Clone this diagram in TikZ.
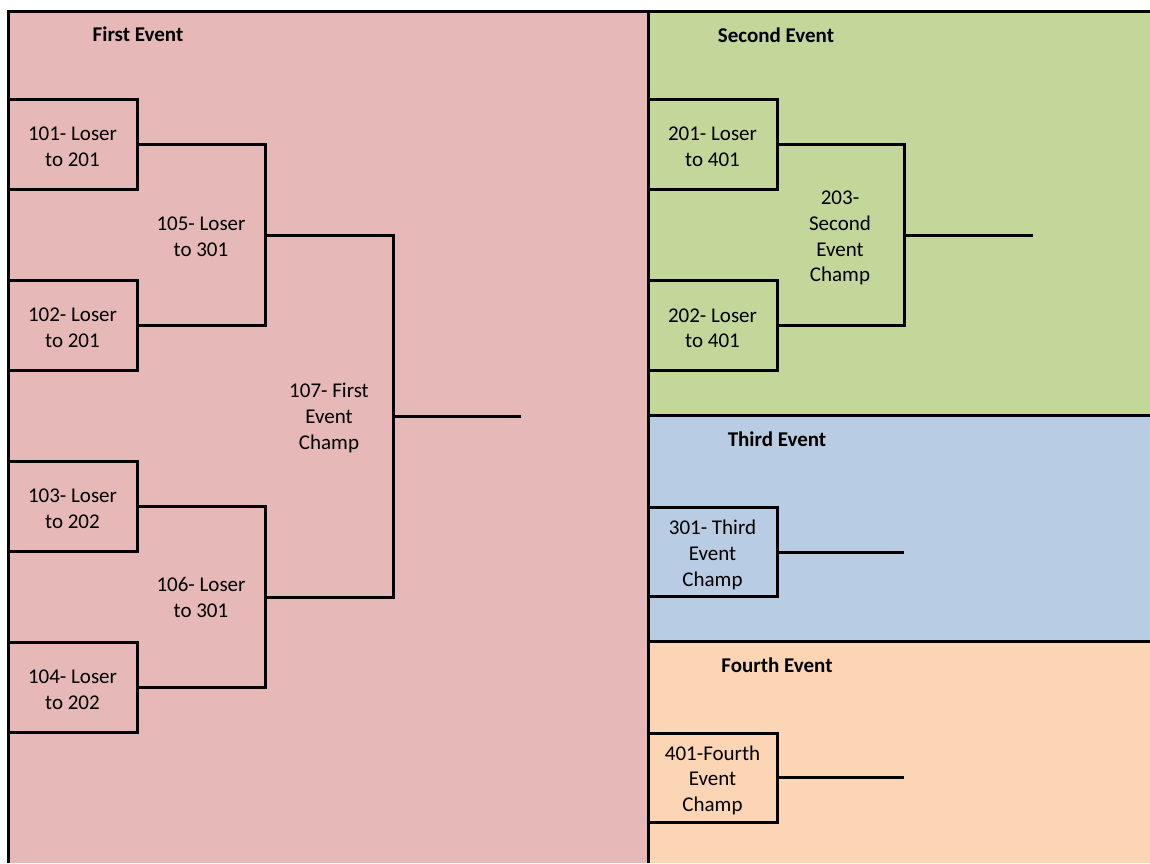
\documentclass[tikz,border=0pt]{standalone}
\usepackage{fontspec}
\setmainfont{Carlito}
\definecolor{pinkbg}{HTML}{E6B8B7}
\definecolor{greenbg}{HTML}{C4D79B}
\definecolor{bluebg}{HTML}{B8CCE4}
\definecolor{orangebg}{HTML}{FCD5B4}
\begin{document}
\begin{tikzpicture}[x=1pt,y=-1pt,line width=3pt,
  txt/.style={align=center,inner sep=0pt,font=\fontsize{21}{25.8}\selectfont},
  box/.style={draw,line width=3pt,minimum width=129pt,minimum height=90pt,inner sep=0pt,
    label={[txt,yshift=-2.8pt]center:#1}},
  title/.style={inner sep=0pt,font=\fontsize{21}{25.8}\selectfont\bfseries}]
\useasboundingbox (0,0) rectangle (1150,863);
% backgrounds
\fill[pinkbg] (8,11) rectangle (648,863);
\fill[greenbg] (648,11) rectangle (1150,415);
\fill[bluebg] (648,415) rectangle (1150,641);
\fill[orangebg] (648,641) rectangle (1150,863);
% frame lines
\draw (8,863) -- (8,11) -- (1150,11);
\draw (648,11) -- (648,863);
\draw (648,415) -- (1150,415);
\draw (648,641) -- (1150,641);
% titles
\node[title] (t1) at (138,34) {First Event};
\node[title] (t2) at (776,35) {Second Event};
\node[title] (t3) at (777,439) {Third Event};
\node[title] (t4) at (777,665) {Fourth Event};
% first event boxes
\node[box={101- Loser\\to 201}] (b101) at (72.5,144) {};
\node[box={102- Loser\\to 201}] (b102) at (72.5,325) {};
\node[box={103- Loser\\to 202}] (b103) at (72.5,506) {};
\node[box={104- Loser\\to 202}] (b104) at (72.5,687) {};
\coordinate (j105) at (265,235);
\coordinate (j106) at (265,597);
\coordinate (j107) at (393,416);
\coordinate (o107) at (521,416);
\draw (b101.east) -| (j105) |- (b102.east);
\draw (b103.east) -| (j106) |- (b104.east);
\draw (j105) -| (j107) |- (j106);
\draw (j107) -- (o107);
\node[txt] (l105) at (201,236.5) {105- Loser\\to 301};
\node[txt] (l106) at (201,597.5) {106- Loser\\to 301};
\node[txt] (l107) at (329,418) {107- First\\Event\\Champ};
% second event
\node[box={201- Loser\\to 401}] (b201) at (712.5,144) {};
\node[box={202- Loser\\to 401}] (b202) at (712.5,325.5) {};
\coordinate (j203) at (904,235);
\coordinate (o203) at (1033,235);
\draw (b201.east) -| (j203) |- (b202.east);
\draw (j203) -- (o203);
\node[txt] (l203) at (840,238) {203-\\Second\\Event\\Champ};
% third event
\node[box={301- Third\\Event\\Champ},minimum height=89pt] (b301) at (712.5,552) {};
\coordinate (o301) at (904,552);
\draw (b301.east) -- (o301);
% fourth event
\node[box={401-Fourth\\Event\\Champ},minimum height=89pt] (b401) at (712.5,777.5) {};
\coordinate (o401) at (904,777.5);
\draw (b401.east) -- (o401);
\end{tikzpicture}
\end{document}
